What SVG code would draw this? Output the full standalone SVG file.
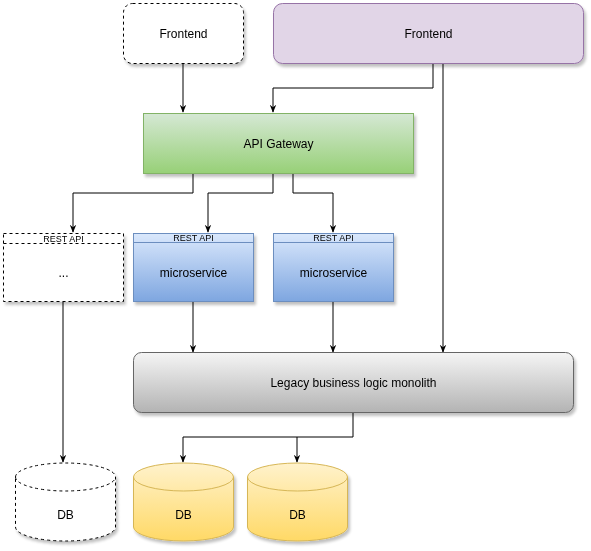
<svg xmlns="http://www.w3.org/2000/svg" width="591" height="551" viewBox="0 0 591 551">
<defs>
<style>
text{font-family:"Liberation Sans",Arial,sans-serif;font-size:12px;fill:#000;text-anchor:middle;dominant-baseline:central}
.small{font-size:9px}
.edge{fill:none;stroke:#000;stroke-width:1}
.shadow{filter:url(#sh)}
</style>
<filter id="sh" x="-10%" y="-10%" width="130%" height="140%">
<feGaussianBlur in="SourceAlpha" stdDeviation="1.5"/>
<feOffset dx="2" dy="3" result="b"/>
<feComponentTransfer><feFuncA type="linear" slope="0.25"/></feComponentTransfer>
<feMerge><feMergeNode/><feMergeNode in="SourceGraphic"/></feMerge>
</filter>
<linearGradient id="gGreen" x1="0" y1="0" x2="0" y2="1"><stop offset="0" stop-color="#d5e8d4"/><stop offset="1" stop-color="#97d077"/></linearGradient>
<linearGradient id="gBlue" x1="0" y1="0" x2="0" y2="1"><stop offset="0" stop-color="#dae8fc"/><stop offset="1" stop-color="#7ea6e0"/></linearGradient>
<linearGradient id="gGray" x1="0" y1="0" x2="0" y2="1"><stop offset="0" stop-color="#f5f5f5"/><stop offset="1" stop-color="#b3b3b3"/></linearGradient>
<linearGradient id="gYellow" x1="0" y1="0" x2="0" y2="1"><stop offset="0" stop-color="#fff2cc"/><stop offset="1" stop-color="#ffd966"/></linearGradient>
<marker id="arr" viewBox="0 0 10 10" refX="9" refY="5" markerWidth="8" markerHeight="8" orient="auto" markerUnits="userSpaceOnUse">
<path d="M0,1 L10,5 L0,9 L3,5 Z" fill="#000"/>
</marker>
</defs>
<rect width="591" height="551" fill="#fff"/>

<g id="connectors">
<path class="edge" d="M183,63 V112" marker-end="url(#arr)"/>
<path class="edge" d="M433,63 V88 H273 V112" marker-end="url(#arr)"/>
<path class="edge" d="M443,63 V352" marker-end="url(#arr)"/>
<path class="edge" d="M193,173 V193 H73 V232" marker-end="url(#arr)"/>
<path class="edge" d="M273,173 V193 H208 V232" marker-end="url(#arr)"/>
<path class="edge" d="M293,173 V193 H333 V232" marker-end="url(#arr)"/>
<path class="edge" d="M193,302 V352" marker-end="url(#arr)"/>
<path class="edge" d="M333,302 V352" marker-end="url(#arr)"/>
<path class="edge" d="M63,302 V462" marker-end="url(#arr)"/>
<path class="edge" d="M353,413 V437 H183 V462" marker-end="url(#arr)"/>
<path class="edge" d="M297,437 V462" marker-end="url(#arr)"/>
</g>

<g id="frontend-dashed" class="shadow">
<rect x="123.5" y="3.5" width="120" height="60" rx="9" fill="#fff" stroke="#000" stroke-dasharray="3,3"/>
<text x="183.5" y="33.5">Frontend</text>
</g>

<g id="frontend" class="shadow">
<rect x="273.5" y="3.5" width="310" height="60" rx="9" fill="#e1d5e7" stroke="#9673a6"/>
<text x="428.5" y="33.5">Frontend</text>
</g>

<g id="api-gateway" class="shadow">
<rect x="143.5" y="113.5" width="270" height="60" fill="url(#gGreen)" stroke="#82b366"/>
<text x="278.5" y="143.5">API Gateway</text>
</g>

<g id="rest-dashed" class="shadow">
<rect x="3.5" y="233.5" width="120" height="68" fill="#fff" stroke="#000" stroke-dasharray="3,3"/>
<line x1="3.5" y1="243.5" x2="123.5" y2="243.5" stroke="#000" stroke-dasharray="3,3"/>
<text class="small" x="63.5" y="238.5">REST API</text>
<text x="63.5" y="272.5">...</text>
</g>

<g id="microservice-1" class="shadow">
<rect x="133.5" y="233.5" width="120" height="68" fill="url(#gBlue)" stroke="#6c8ebf"/>
<line x1="133.5" y1="242.5" x2="253.5" y2="242.5" stroke="#6c8ebf"/>
<text class="small" x="193.5" y="238">REST API</text>
<text x="193.5" y="272.5">microservice</text>
</g>

<g id="microservice-2" class="shadow">
<rect x="273.5" y="233.5" width="120" height="68" fill="url(#gBlue)" stroke="#6c8ebf"/>
<line x1="273.5" y1="242.5" x2="393.5" y2="242.5" stroke="#6c8ebf"/>
<text class="small" x="333.5" y="238">REST API</text>
<text x="333.5" y="272.5">microservice</text>
</g>

<g id="monolith" class="shadow">
<rect x="133.5" y="352.5" width="440" height="60" rx="8" fill="url(#gGray)" stroke="#666"/>
<text x="353.5" y="382.5">Legacy business logic monolith</text>
</g>

<g id="db-dashed" class="shadow">
<path d="M15.5,477 A50,14 0 0 1 115.5,477 V527 A50,14 0 0 1 15.5,527 Z" fill="#fff" stroke="#000" stroke-dasharray="3,3"/>
<path d="M15.5,477 A50,14 0 0 0 115.5,477" fill="none" stroke="#000" stroke-dasharray="3,3"/>
<text x="65.5" y="515">DB</text>
</g>

<g id="db-1" class="shadow">
<path d="M133.5,477 A50,14 0 0 1 233.5,477 V527 A50,14 0 0 1 133.5,527 Z" fill="url(#gYellow)" stroke="#d6b656"/>
<path d="M133.5,477 A50,14 0 0 0 233.5,477" fill="none" stroke="#d6b656"/>
<text x="183.5" y="515">DB</text>
</g>

<g id="db-2" class="shadow">
<path d="M247.5,477 A50,14 0 0 1 347.5,477 V527 A50,14 0 0 1 247.5,527 Z" fill="url(#gYellow)" stroke="#d6b656"/>
<path d="M247.5,477 A50,14 0 0 0 347.5,477" fill="none" stroke="#d6b656"/>
<text x="297.5" y="515">DB</text>
</g>
</svg>
